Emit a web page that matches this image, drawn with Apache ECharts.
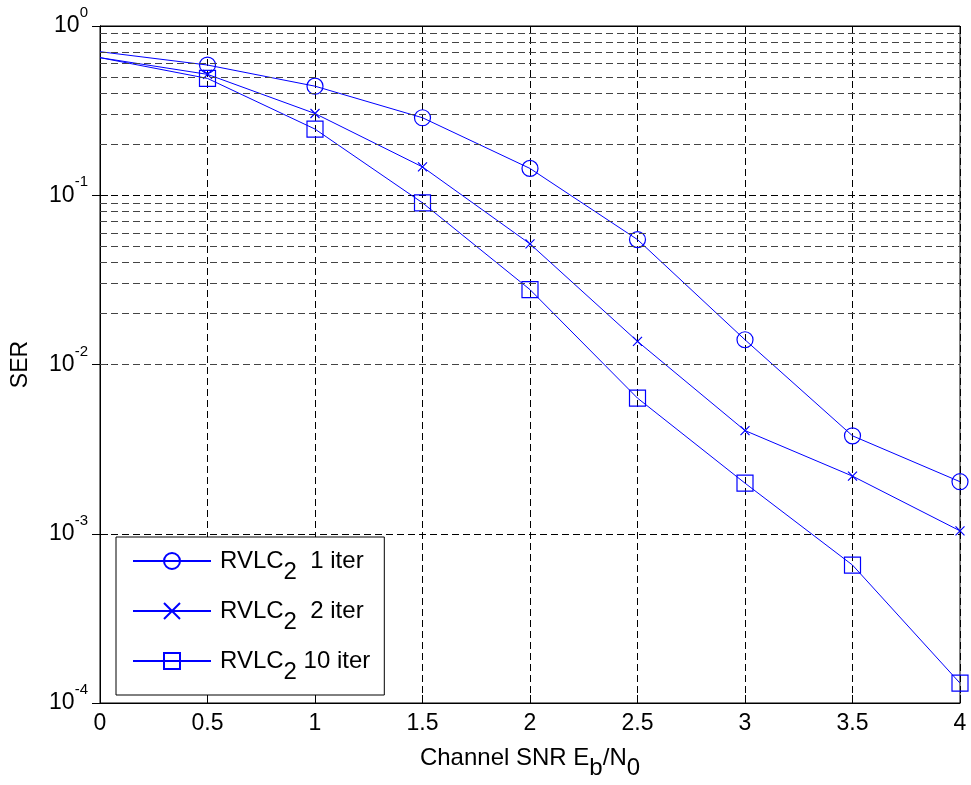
<!DOCTYPE html>
<html><head><meta charset="utf-8">
<script src="https://cdn.jsdelivr.net/npm/echarts@6/dist/echarts.min.js"></script>
<style>html,body{margin:0;padding:0;background:#fff}#c{width:971px;height:785px}</style>
</head><body><div id="c"></div>
<script>
var snr = [0, 0.5, 1, 1.5, 2, 2.5, 3, 3.5, 4];
var iter1 = [0.705, 0.588, 0.441, 0.287, 0.144, 0.0547, 0.0140, 0.00379, 0.00203];
var iter2 = [0.65, 0.518, 0.304, 0.147, 0.0516, 0.0137, 0.00407, 0.00219, 0.00104];
var iter10 = [0.65, 0.49, 0.246, 0.0902, 0.0277, 0.00633, 0.00199, 0.000653, 0.000131];
var seriesNames = ['RVLC2  1 iter', 'RVLC2  2 iter', 'RVLC2 10 iter'];
var minorGridY = [];
[1e-4, 1e-3, 1e-2, 1e-1].forEach(function (d) { for (var k = 2; k <= 9; k++) minorGridY.push(+(d * k).toPrecision(3)); });

var FONT = 'Liberation Sans, Arial, sans-serif';
var FS = 23;
var BLUE = '#0000ff';
function pts(arr) {
  return snr.map(function (x, i) {
    var p = { value: [x, arr[i]] };
    if (i === 0) p.symbol = 'none';
    return p;
  });
}
var cross = 'path://M0,0L10,10M10,0L0,10';
var chart = echarts.init(document.getElementById('c'));
var dashMajor = { color: '#000', width: 1, type: [7, 4] };
chart.setOption({
  animation: false,
  backgroundColor: '#fff',
  grid: { left: 100, top: 26, right: 11, bottom: 82, containLabel: false, outerBoundsMode: 'none',
    show: true, borderColor: '#000', borderWidth: 1, backgroundColor: 'transparent' },
  xAxis: [{
    type: 'value', min: 0, max: 4, interval: 0.5,
    axisLine: { show: true, lineStyle: { color: '#000', width: 1 } },
    axisTick: { show: true, inside: true, length: 8, lineStyle: { color: '#000' } },
    axisLabel: { color: '#000', fontSize: FS, fontFamily: FONT, margin: 9, formatter: function (v) { return String(v); } },
    splitLine: { show: true, lineStyle: dashMajor },
    name: 'Channel SNR E{sub|b}/N{sub|0}',
    nameLocation: 'middle', nameGap: 33,
    nameTextStyle: { color: '#000', fontSize: 24, fontFamily: FONT,
      rich: { sub: { fontSize: 24, fontFamily: FONT, color: '#000', padding: [20, 0, 0, 0] } } }
  }, {
    type: 'value', min: 0, max: 4, interval: 0.5, position: 'top',
    axisLine: { show: true, lineStyle: { color: '#000' } },
    axisTick: { show: true, inside: true, length: 8, lineStyle: { color: '#000' } },
    axisLabel: { show: false }, splitLine: { show: false }
  }],
  yAxis: [{
    type: 'log', logBase: 10, min: 1e-4, max: 1,
    axisLine: { show: true, lineStyle: { color: '#000' } },
    axisTick: { show: true, inside: true, length: 8, lineStyle: { color: '#000' } },
    axisLabel: {
      color: '#000', fontSize: FS, fontFamily: FONT, margin: 12,
      formatter: function (v) { return '10{sup|' + Math.round(Math.log10(v)) + '}'; },
      rich: { sup: { fontSize: 15, fontFamily: FONT, color: '#000', padding: [0, 0, 26, 0] } }
    },
    splitLine: { show: true, lineStyle: dashMajor },
    name: 'SER', nameLocation: 'middle', nameGap: 68, nameRotate: 90,
    nameTextStyle: { color: '#000', fontSize: FS, fontFamily: FONT }
  }, {
    type: 'log', logBase: 10, min: 1e-4, max: 1, position: 'right',
    axisLine: { show: true, lineStyle: { color: '#000' } },
    axisTick: { show: true, inside: true, length: 8, lineStyle: { color: '#000' } },
    axisLabel: { show: false }, splitLine: { show: false }
  }],
  legend: {
    left: 116, top: 537, orient: 'vertical',
    backgroundColor: '#fff', borderColor: '#000', borderWidth: 1,
    padding: [12, 14, 11, 16], itemGap: 15, itemWidth: 78, itemHeight: 20,
    data: seriesNames,
    formatter: function (n) { return n.replace('RVLC2', 'RVLC{sub|2}'); },
    textStyle: { color: '#000', fontSize: 24, fontFamily: FONT, padding: [0, 0, 0, 4],
      rich: { sub: { fontSize: 24, fontFamily: FONT, color: '#000', padding: [22, 0, 0, 0] } } }
  },
  series: [{
    type: 'line', data: [], silent: true, z: 1,
    markLine: { silent: true, symbol: 'none', label: { show: false },
      lineStyle: { color: '#444', width: 1, type: [7, 4] },
      data: minorGridY.map(function (v) { return { yAxis: v }; }) }
  }, {
    name: seriesNames[0], type: 'line', data: pts(iter1), z: 3,
    symbol: 'circle', symbolSize: 16, color: BLUE,
    lineStyle: { color: BLUE, width: 1 },
    itemStyle: { color: 'rgba(0,0,0,0)', borderColor: BLUE, borderWidth: 1.2 }
  }, {
    name: seriesNames[1], type: 'line', data: pts(iter2), z: 3,
    symbol: cross, symbolSize: 9, color: BLUE,
    lineStyle: { color: BLUE, width: 1 },
    itemStyle: { color: 'rgba(0,0,0,0)', borderColor: BLUE, borderWidth: 1.2 }
  }, {
    name: seriesNames[2], type: 'line', data: pts(iter10), z: 3,
    symbol: 'rect', symbolSize: 16, color: BLUE,
    lineStyle: { color: BLUE, width: 1 },
    itemStyle: { color: 'rgba(0,0,0,0)', borderColor: BLUE, borderWidth: 1.2 }
  }]
});
</script></body></html>
